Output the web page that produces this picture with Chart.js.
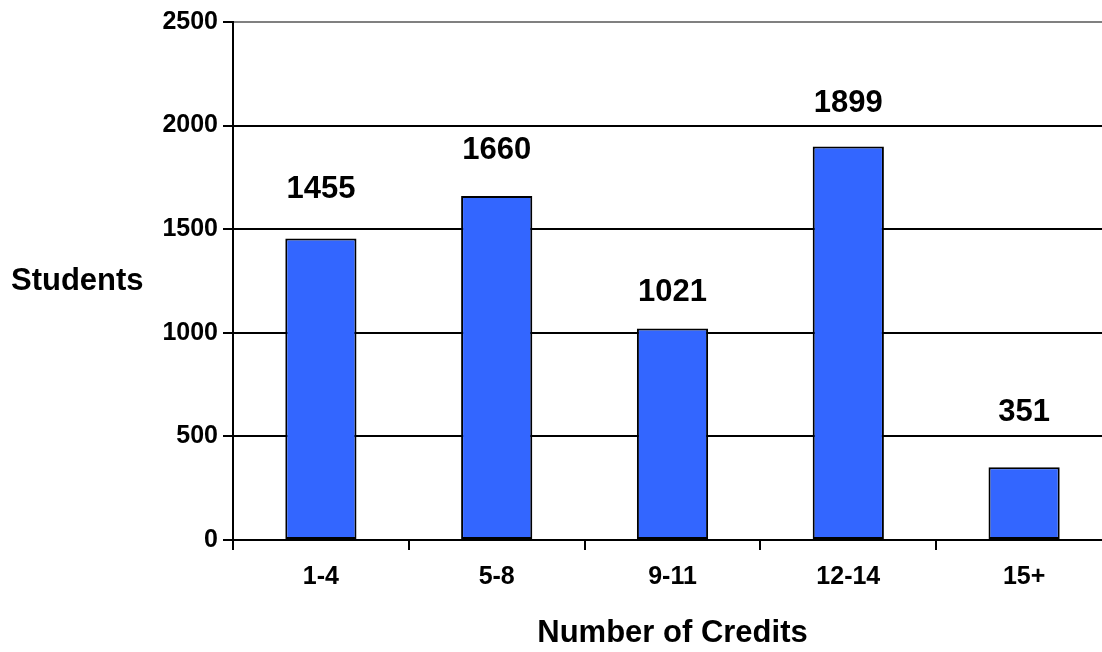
<!DOCTYPE html>
<html>
<head>
<meta charset="utf-8">
<script src="https://cdn.jsdelivr.net/npm/chart.js@4/dist/chart.umd.min.js"></script>
<style>
  html, body { margin: 0; padding: 0; background: #fff; overflow: hidden; }
  #wrap { width: 1112px; height: 652px; }
</style>
</head>
<body>
<div id="wrap"><canvas id="myChart"></canvas></div>
<script>
var credits = ['1-4', '5-8', '9-11', '12-14', '15+'];
var students = [1455, 1660, 1021, 1899, 351];
var yTicks = [0, 500, 1000, 1500, 2000, 2500];

var face = '"Liberation Sans", Arial, sans-serif';
// how far above each bar its number sits
var labelLift = [49, 46, 36, 43, 55];

const valueLabels = {
  id: 'valueLabels',
  afterDatasetsDraw(chart) {
    const ctx = chart.ctx;
    const meta = chart.getDatasetMeta(0);
    ctx.save();
    ctx.font = 'bold 31px ' + face;
    ctx.fillStyle = '#000';
    ctx.textAlign = 'center';
    ctx.textBaseline = 'middle';
    meta.data.forEach((bar, i) => {
      ctx.fillText(String(students[i]), bar.x, bar.y - labelLift[i]);
    });
    ctx.restore();
  }
};

const sideTitle = {
  id: 'sideTitle',
  afterDraw(chart) {
    const ctx = chart.ctx;
    ctx.save();
    ctx.font = 'bold 31px ' + face;
    ctx.fillStyle = '#000';
    ctx.textAlign = 'left';
    ctx.textBaseline = 'middle';
    ctx.fillText('Students', 11, 281);
    ctx.restore();
  }
};

const data = {
  labels: credits,
  datasets: [{
    data: students,
    backgroundColor: '#3366FF',
    borderColor: '#000',
    borderWidth: 2,
    borderSkipped: false,
    barPercentage: 0.405,
    categoryPercentage: 1
  }]
};

const config = {
  type: 'bar',
  data: data,
  options: {
    animation: false,
    responsive: true,
    maintainAspectRatio: false,
    layout: { padding: { top: 22, right: 0, left: 0, bottom: 0 } },
    plugins: {
      legend: { display: false },
      tooltip: { enabled: false }
    },
    scales: {
      x: {
        afterFit(scale) { scale.height = 112; },
        grid: {
          drawOnChartArea: false,
          drawTicks: true,
          tickLength: 10,
          color: '#000',
          lineWidth: 2
        },
        border: { color: '#000', width: 2 },
        ticks: {
          color: '#000',
          padding: 12,
          font: { family: face, size: 25, weight: 'bold' }
        },
        title: {
          display: true,
          text: 'Number of Credits',
          color: '#000',
          padding: { top: 0, bottom: 0 },
          font: { family: face, size: 31, weight: 'bold' }
        }
      },
      y: {
        min: 0,
        max: 2500,
        afterFit(scale) { scale.width = 233; },
        afterBuildTicks(scale) { scale.ticks = yTicks.map(v => ({ value: v })); },
        grid: {
          color: ctx => (ctx.tick && ctx.tick.value === 2500) ? '#808080' : '#000',
          tickColor: '#000',
          lineWidth: 2,
          tickLength: 10
        },
        border: { color: '#000', width: 2 },
        ticks: {
          color: '#000',
          padding: 5,
          callback: v => String(v),
          font: { family: face, size: 25, weight: 'bold' }
        }
      }
    }
  },
  plugins: [valueLabels, sideTitle]
};

const myChart = new Chart(document.getElementById('myChart'), config);
</script>
</body>
</html>
